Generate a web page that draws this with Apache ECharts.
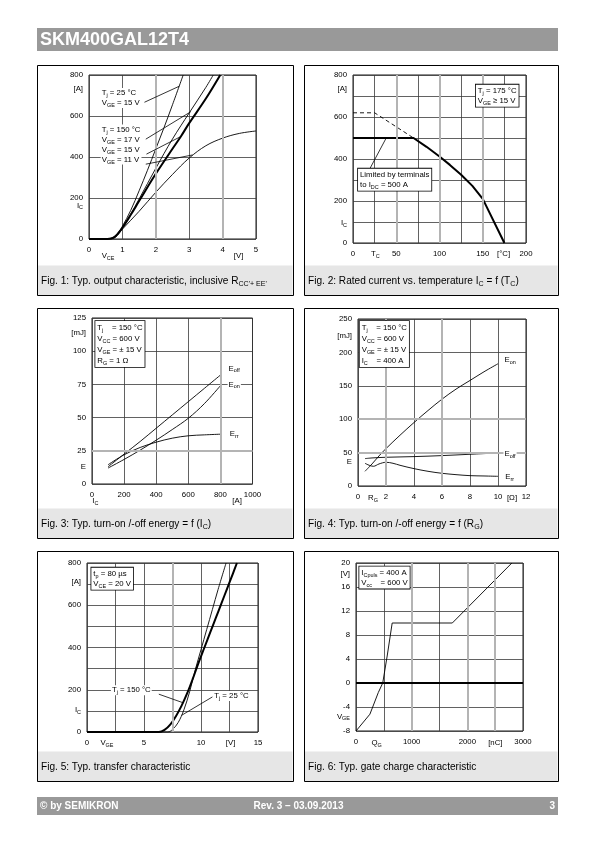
<!DOCTYPE html>
<html><head><meta charset="utf-8">
<script src="https://cdn.jsdelivr.net/npm/echarts@6/dist/echarts.min.js"></script>
<style>html,body{margin:0;padding:0;background:#fff}#c{width:595px;height:842px}</style>
</head><body><div id="c"></div>
<script>
const FONT = '"Liberation Sans", Arial, Helvetica, sans-serif';

// ================= DATA =================
// Fig. 1  output characteristic  [V_CE (V), I_C (A)]
const f1_25C_15V  = [[0,0],[0.5,1],[0.7,6],[0.85,25],[1.0,62],[1.25,140],[1.5,235],[1.75,335],[2.0,440],[2.25,545],[2.5,655],[2.82,800]];
const f1_150C_17V = [[0,0],[0.55,0.5],[0.75,8],[1.0,55],[1.25,122],[1.5,195],[2.0,345],[2.5,488],[3.0,615],[3.5,740],[3.72,800]];
const f1_150C_15V = [[0,0],[0.55,0.5],[0.75,8],[1.0,55],[1.25,118],[1.5,185],[2.0,318],[2.5,440],[2.75,500],[3.0,565],[3.5,685],[3.93,800]];
const f1_150C_11V = [[0,0],[0.6,0.5],[0.8,10],[1.0,48],[1.5,135],[2.0,228],[2.5,315],[3.0,395],[3.5,455],[4.0,492],[4.5,515],[5.0,527]];
const f1_xLabels = [0,1,2,3,4,5];
const f1_yLabels = [0,200,400,600,800];

// Fig. 2  rated current vs. case temperature [T_C (°C), I_C (A)]
const f2_solid  = [[0,500],[70,500],[85,458],[100,412],[112,372],[125,325],[138,272],[150,210],[175,0]];
const f2_dashed = [[0,620],[25,620],[70,500]];
const f2_xLabels = [0,50,100,150,200];
const f2_yLabels = [0,200,400,600,800];

// Fig. 3  switching energy vs. I_C [I_C (A), E (mJ)]
const f3_eoff = [[100,13],[200,22.5],[300,32],[400,42],[500,52],[600,62],[700,72],[800,82]];
const f3_eon  = [[100,12],[200,18.5],[300,25.5],[400,33],[500,41],[600,49.5],[700,60.5],[800,74]];
const f3_err  = [[100,14.5],[200,22],[300,27.5],[400,31.5],[500,34.5],[600,36.3],[700,37],[800,37.5]];
const f3_xLabels = [0,200,400,600,800,1000];
const f3_yLabels = [0,25,50,75,100,125];

// Fig. 4  switching energy vs. R_G [R_G (Ohm), E (mJ)]
const f4_eon  = [[0.5,22],[1,33],[1.5,45],[2,56],[3,76],[4,95],[5,113],[6,130],[7,145],[8,158],[9,171],[10,183]];
const f4_eoff = [[0.5,41],[1,42],[2,43],[4,44],[6,45.5],[8,47.5],[10,49.5]];
const f4_err  = [[0.5,34],[0.8,31],[1.1,29.5],[1.5,33],[2,35.5],[2.5,34],[3,31],[4,26],[5,22],[6,19],[7,17],[8,15.5],[9,15],[10,14.5]];
const f4_xLabels = [0,2,4,6,8,10,12];
const f4_yLabels = [0,50,100,150,200,250];

// Fig. 5  transfer characteristic [V_GE (V), I_C (A)]
const f5_150C = [[0,0],[6.3,0],[6.8,10],[7.3,35],[7.8,75],[8.3,125],[8.8,185],[9.3,255],[9.8,330],[10.3,400],[10.8,470],[11.3,540],[11.8,610],[12.3,680],[12.8,750],[13.15,800]];
const f5_25C  = [[0,0],[7.1,0],[7.5,12],[8.0,45],[8.5,105],[9.0,190],[9.5,295],[10.0,390],[10.5,485],[11.0,580],[11.5,675],[12.2,800]];
const f5_xLabels = [0,5,10,15];
const f5_yLabels = [0,200,400,600,800];

// Fig. 6  gate charge [Q_G (nC), V_GE (V)]
const f6_vge = [[0,-8],[250,-5.2],[400,-1.6],[480,0],[560,4.5],[650,10],[1730,10],[2800,20]];
const f6_xLabels = [0,1000,2000,3000];
const f6_yLabels = [-8,-4,0,4,8,12,16,20];

// ================= LAYOUT =================
const SMALL = 7.8;
const PANELS = [
 { box:[37,65,256,230], grid:[89,75,167,164],
   x:{min:0,max:5,step:1,labels:f1_xLabels}, y:{min:0,max:800,step:200,labels:f1_yLabels},
   gray:{x:[2,4],y:[]}, black:{y:[]},
   curves:[{d:f1_25C_15V,w:0.9},{d:f1_150C_17V,w:0.9},{d:f1_150C_15V,w:2},{d:f1_150C_11V,w:0.9}],
   caption:"Fig. 1: Typ. output characteristic, inclusive R_{CC'+ EE'}",
   names:[{a:'y',v:730,t:'[A]'},{a:'y',v:162,t:'I_{C}'},{a:'x',v:0.57,t:'V_{CE}',dy:17},{a:'x',v:4.48,t:'[V]',dy:17}],
   notes:[{p:[0.35,736],t:'T_{j} = 25 °C\nV_{GE} = 15 V'},{p:[0.35,558],t:'T_{j} = 150 °C\nV_{GE} = 17 V\nV_{GE} = 15 V\nV_{GE} = 11 V'}],
   leaders:[[[1.66,667],[2.70,745]],[[1.70,487],[3.05,621]],[[1.72,414],[2.75,500]],[[1.70,365],[3.10,410]]]
 },
 { box:[304,65,254,230], grid:[353,75,173,168],
   x:{min:0,max:200,step:25,labels:f2_xLabels}, y:{min:0,max:800,step:100,labels:f2_yLabels},
   gray:{x:[50,100,150],y:[]}, black:{y:[]},
   curves:[{d:f2_solid,w:2,smooth:false},{d:f2_dashed,w:0.9,dash:[4,3],smooth:false}],
   caption:"Fig. 2: Rated current vs. temperature I_{C} = f (T_{C})",
   names:[{a:'y',v:732,t:'[A]'},{a:'y',v:95,t:'I_{C}'},{a:'x',v:25.8,t:'T_{C}',dy:11},{a:'x',v:174,t:'[°C]',dy:11}],
   notes:[{p:[142,754],t:'T_{j} = 175 °C\nV_{GE} ≥ 15 V',box:true},{p:[5.8,354],t:'Limited by terminals\nto I_{DC} = 500 A',box:true}],
   leaders:[[[19.5,354],[38.4,500]]]
 },
 { box:[37,308,256,230], grid:[92,318,160.5,166],
   x:{min:0,max:1000,step:200,labels:f3_xLabels}, y:{min:0,max:125,step:25,labels:f3_yLabels},
   gray:{x:[800],y:[25]}, black:{y:[]},
   curves:[{d:f3_eoff,w:0.9},{d:f3_eon,w:0.9},{d:f3_err,w:0.9}],
   caption:"Fig. 3: Typ. turn-on /-off energy = f (I_{C})",
   names:[{a:'y',v:113.7,t:'[mJ]'},{a:'y',v:12.6,t:'E'},{a:'x',v:21,t:'I_{C}',dy:17},{a:'x',v:904,t:'[A]',dy:17}],
   notes:[{p:[20.6,122.7],t:'T_{j}    = 150 °C\nV_{CC} = 600 V\nV_{GE} = ± 15 V\nR_{G} = 1 Ω',box:true,lh:11},
          {p:[845,87],t:'E_{off}',mid:true},{p:[845,75],t:'E_{on}',mid:true},{p:[852,37.6],t:'E_{rr}',mid:true}],
   leaders:[]
 },
 { box:[304,308,254,230], grid:[358,319,168,167],
   x:{min:0,max:12,step:2,labels:f4_xLabels}, y:{min:0,max:250,step:50,labels:f4_yLabels},
   gray:{x:[2,6],y:[50,100]}, black:{y:[]},
   curves:[{d:f4_eon,w:0.9},{d:f4_eoff,w:0.9},{d:f4_err,w:0.9}],
   caption:"Fig. 4: Typ. turn-on /-off energy = f (R_{G})",
   names:[{a:'y',v:224.6,t:'[mJ]'},{a:'y',v:35.5,t:'E'},{a:'x',v:1.07,t:'R_{G}',dy:12},{a:'x',v:11.0,t:'[Ω]',dy:12}],
   notes:[{p:[0.12,247],t:'T_{j}    = 150 °C\nV_{CC} = 600 V\nV_{GE} = ± 15 V\nI_{C}    = 400 A',box:true,lh:11},
          {p:[10.39,189],t:'E_{on}',mid:true},{p:[10.39,48.4],t:'E_{off}',mid:true},{p:[10.45,13],t:'E_{rr}',mid:true}],
   leaders:[]
 },
 { box:[37,551,256,230], grid:[87,563,171,169],
   x:{min:0,max:15,step:2.5,labels:f5_xLabels}, y:{min:0,max:800,step:100,labels:f5_yLabels},
   gray:{x:[7.5],y:[]}, black:{y:[]},
   curves:[{d:f5_150C,w:2},{d:f5_25C,w:0.9}],
   caption:"Fig. 5: Typ. transfer characteristic",
   names:[{a:'y',v:710,t:'[A]'},{a:'y',v:103,t:'I_{C}'},{a:'x',v:1.75,t:'V_{GE}',dy:11},{a:'x',v:12.6,t:'[V]',dy:11}],
   notes:[{p:[0.38,778],t:'t_{p} = 80 µs\nV_{CE} = 20 V',box:true},
          {p:[2.1,198],t:'T_{j} = 150 °C',mid:true},{p:[11.07,171],t:'T_{j} = 25 °C',mid:true}],
   leaders:[[[6.3,179],[8.45,138]],[[11.0,166],[8.3,79]]]
 },
 { box:[304,551,254,230], grid:[356,563,167,168],
   x:{min:0,max:3000,step:500,labels:f6_xLabels}, y:{min:-8,max:20,step:4,labels:f6_yLabels},
   gray:{x:[1000,2000,2500],y:[]}, black:{y:[0]},
   curves:[{d:f6_vge,w:0.9,smooth:false}],
   caption:"Fig. 6: Typ. gate charge characteristic",
   names:[{a:'y',v:18.2,t:'[V]'},{a:'y',v:-5.6,t:'V_{GE}'},{a:'x',v:372,t:'Q_{G}',dy:12},{a:'x',v:2502,t:'[nC]',dy:12}],
   notes:[{p:[59,19.4],t:'I_{Cpuls} = 400 A\nV_{cc}    = 600 V',box:true}],
   leaders:[]
 }
];

// ================= HELPERS =================
function toRich(s){
  let out='', buf='', i=0;
  const flush=()=>{ if(buf){ out+='{n|'+buf+'}'; buf=''; } };
  while(i<s.length){
    if(s[i]==='_' && s[i+1]==='{'){ flush(); const j=s.indexOf('}',i); out+='{s|'+s.slice(i+2,j)+'}'; i=j+1; }
    else if(s[i]==='\n'){ flush(); out+='\n'; i++; }
    else { buf+=s[i]; i++; }
  }
  flush(); return out;
}
function richSet(fs, lh, color){
  color = color || '#000';
  return { n:{fontSize:fs,fontFamily:FONT,fill:color,lineHeight:lh},
           s:{fontSize:fs*0.7,fontFamily:FONT,fill:color,lineHeight:Math.round(fs*0.62),verticalAlign:'bottom'} };
}
const fmtFor = list => v => list.some(t=>Math.abs(t-v)<1e-9) ? String(v) : '';

// ================= BUILD =================
const el = document.getElementById('c');
const chart = echarts.init(el, null, {renderer:'canvas', width:595, height:842});
const grids=[], xAxes=[], yAxes=[], series=[];
PANELS.forEach((p,i)=>{
  grids.push({left:p.grid[0],top:p.grid[1],width:p.grid[2],height:p.grid[3],show:true,borderColor:'#1a1a1a',borderWidth:1,containLabel:false,outerBoundsMode:'none'});
  const ax = (a,isX)=>({type:'value',gridIndex:i,min:a.min,max:a.max,interval:a.step,
    axisLine:{show:false},axisTick:{show:false},
    splitLine:{show:true,lineStyle:{color:'#3a3a3a',width:0.8}},
    axisLabel:{margin:isX?7:6,fontSize:SMALL,fontFamily:FONT,color:'#000',formatter:fmtFor(a.labels),showMinLabel:true,showMaxLabel:true,hideOverlap:false}});
  xAxes.push(ax(p.x,true)); yAxes.push(ax(p.y,false));
  const ml = [];
  p.gray.x.forEach(v=>ml.push({xAxis:v,lineStyle:{color:'#b4b4b4',width:2,type:'solid'}}));
  p.gray.y.forEach(v=>ml.push({yAxis:v,lineStyle:{color:'#b4b4b4',width:2,type:'solid'}}));
  p.black.y.forEach(v=>ml.push({yAxis:v,lineStyle:{color:'#000',width:2,type:'solid'}}));
  series.push({type:'line',xAxisIndex:i,yAxisIndex:i,data:[[p.x.min,p.y.min]],showSymbol:false,symbol:'none',
    lineStyle:{opacity:0},z:1,silent:true,
    markLine:{silent:true,symbol:['none','none'],label:{show:false},animation:false,lineStyle:{type:'solid'},data:ml}});
  p.curves.forEach(c=>{
    series.push({type:'line',xAxisIndex:i,yAxisIndex:i,data:c.d,showSymbol:false,symbol:'none',z:3,silent:true,
      smooth:c.smooth===false?false:0.35,
      lineStyle:{color:'#000',width:c.w,type:c.dash||'solid',cap:'butt'}});
  });
});
chart.setOption({animation:false,grid:grids,xAxis:xAxes,yAxis:yAxes,series:series});

// ================= GRAPHICS (text, frames) =================
const G = [];
G.push({type:'rect',shape:{x:37,y:28,width:521,height:23},style:{fill:'#999999'},z:0});
G.push({type:'text',x:40,y:40,style:{text:'SKM400GAL12T4',font:'bold 18px '+FONT,fill:'#fff',verticalAlign:'middle',align:'left'},z:1});
G.push({type:'rect',shape:{x:37,y:797,width:521,height:18},style:{fill:'#999999'},z:0});
G.push({type:'text',x:40,y:806,style:{text:'© by SEMIKRON',font:'bold 10px '+FONT,fill:'#fff',verticalAlign:'middle',align:'left'},z:1});
G.push({type:'text',x:298.5,y:806,style:{text:'Rev. 3 – 03.09.2013',font:'bold 10px '+FONT,fill:'#fff',verticalAlign:'middle',align:'center'},z:1});
G.push({type:'text',x:555,y:806,style:{text:'3',font:'bold 10px '+FONT,fill:'#fff',verticalAlign:'middle',align:'right'},z:1});

PANELS.forEach((p,i)=>{
  const [bx,by,bw,bh] = p.box;
  G.push({type:'rect',shape:{x:bx+0.5,y:by+0.5+200,width:bw-1,height:bh-200},style:{fill:'#e6e6e6'},z:0});
  G.push({type:'rect',shape:{x:bx+0.5,y:by+0.5,width:bw,height:bh},style:{fill:'none',stroke:'#000',lineWidth:1},z:5});
  G.push({type:'text',x:bx+4,y:by+216,style:{text:toRich(p.caption),rich:richSet(10.1,13),align:'left',verticalAlign:'middle'},z:6});
  const toPx = pt => chart.convertToPixel({gridIndex:i}, pt);
  const gx = p.grid[0], gy = p.grid[1]+p.grid[3];
  p.names.forEach(nm=>{
    if(nm.a==='y'){
      const py = toPx([p.x.min,nm.v])[1];
      G.push({type:'text',x:gx-6,y:py,style:{text:toRich(nm.t),rich:richSet(SMALL,9),align:'right',verticalAlign:'middle'},z:6});
    } else {
      const px = toPx([nm.v,p.y.min])[0];
      G.push({type:'text',x:px,y:gy+nm.dy,style:{text:toRich(nm.t),rich:richSet(SMALL,9),align:'center',verticalAlign:'middle'},z:6});
    }
  });
  p.leaders.forEach(l=>{
    const a = toPx(l[0]), b = toPx(l[1]);
    G.push({type:'line',shape:{x1:a[0],y1:a[1],x2:b[0],y2:b[1]},style:{stroke:'#000',lineWidth:0.8},z:7});
  });
  p.notes.forEach(n=>{
    const q = toPx(n.p);
    const st = {text:toRich(n.t),rich:richSet(SMALL,n.lh||10),align:'left',verticalAlign:n.mid?'middle':'top',backgroundColor:'#fff',padding:n.box?[1,2,1,2]:[0,1,0,1]};
    if(n.box){ st.borderColor='#000'; st.borderWidth=0.8; }
    G.push({type:'text',x:q[0],y:q[1],style:st,z:8});
  });
});
chart.setOption({graphic:{elements:G}});
</script>
</body></html>
